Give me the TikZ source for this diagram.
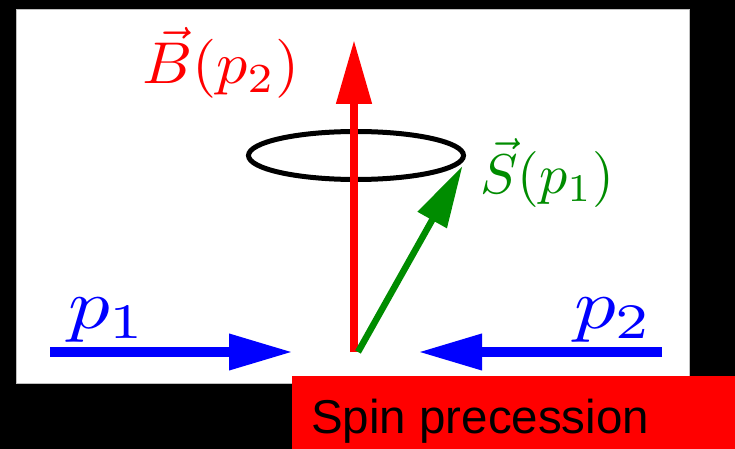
\documentclass[tikz,border=0pt]{standalone}
\usepackage{graphicx}
\usepackage{fontspec}
\newfontfamily\arialfont{Liberation Sans}
\usetikzlibrary{arrows.meta}
\definecolor{spingreen}{RGB}{0,140,0}
\tikzset{
  lbl/.style={inner sep=0pt, anchor=base west},
}
\begin{document}
\begin{tikzpicture}[x=1pt,y=-1pt]
\useasboundingbox (0,0) rectangle (735,449);
\fill[black] (0,0) rectangle (735,449);
\filldraw[fill=white, draw=black!25, line width=1pt] (16,9.5) rectangle (689,383);
% points
\coordinate (cone) at (356,155.5);
\coordinate (origin) at (354,352);
\coordinate (btip) at (354,40);
\coordinate (sbase) at (358,352);
\coordinate (stip) at (462.5,166);
\coordinate (p1s) at (50,352);
\coordinate (p1e) at (293,352);
\coordinate (p2s) at (662,352);
\coordinate (p2e) at (418,352);
% ellipse
\draw[line width=5pt, black] (cone) ellipse [x radius=107.5, y radius=24];
% red arrow
\draw[red, line width=8pt, -{Triangle[length=64pt,width=34pt]}] (origin) -- (btip);
% green arrow
\draw[spingreen, line width=6.5pt, -{Triangle[length=62pt,width=32pt]}] (sbase) -- (stip);
% blue arrows
\draw[blue, line width=10pt, -{Triangle[length=64pt,width=34pt]}] (p1s) -- (p1e);
\draw[blue, line width=10pt, -{Triangle[length=64pt,width=34pt]}] (p2s) -- (p2e);
% labels
\node[lbl, red] (blab) at (142,84) {\scalebox{6.2}[5.9]{$\vec{B}(p_2)$}};
\node[lbl, spingreen] (slab) at (480,193) {\scalebox{5.6}{$\vec{S}(p_1)$}};
\node[lbl, blue] (p1lab) at (68,328) {\scalebox{8.3}[7.1]{$p_1$}};
\node[lbl, blue] (p2lab) at (574,328) {\scalebox{8.3}[7.1]{$p_2$}};
% caption
\fill[red] (292,376) rectangle (735,449);
\node[lbl, black] (cap) at (311,433) {\arialfont\fontsize{47.5}{50}\selectfont Spin precession};
\end{tikzpicture}
\end{document}
